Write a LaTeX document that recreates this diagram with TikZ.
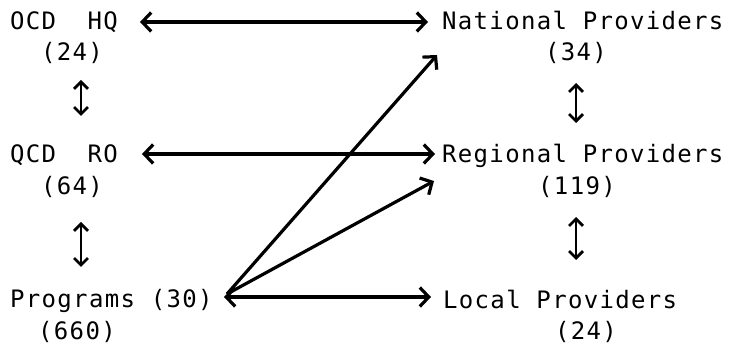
\documentclass[tikz,border=0pt]{standalone}
\usepackage{fontspec}
\newfontfamily\twfont[LetterSpace=5.5]{DejaVu Sans Mono}
\usetikzlibrary{arrows.meta}
\tikzset{
  lbl/.style={inner sep=0pt, font=\twfont\fontsize{24}{26}\selectfont},
  harrow/.style={line width=3.2pt, {Straight Barb[length=9pt,width=19pt]}-{Straight Barb[length=9pt,width=19pt]}},
  darrow/.style={line width=3.2pt, -{Straight Barb[length=9pt,width=19pt]}},
  varrow/.style={line width=2.8pt, {Straight Barb[length=7pt,width=14pt]}-{Straight Barb[length=7pt,width=14pt]}}
}
\begin{document}
\begin{tikzpicture}[x=1pt,y=-1pt]
\useasboundingbox (0,0) rectangle (729,347);
% left column
\node[lbl,anchor=base west] (hq) at (10,30) {OCD\ \ HQ};
\node[lbl,anchor=base] (hqn) at (72,61) {(24)};
\node[lbl,anchor=base west] (ro) at (10,163) {QCD\ \ RO};
\node[lbl,anchor=base] (ron) at (72,195) {(64)};
\node[lbl,anchor=base west] (prog) at (10,308) {Programs (30)};
\node[lbl,anchor=base] (progn) at (77,340) {(660)};
% right column
\node[lbl,anchor=base west] (nat) at (442,30) {National Providers};
\node[lbl,anchor=base] (natn) at (576,61) {(34)};
\node[lbl,anchor=base west] (reg) at (442,163) {Regional Providers};
\node[lbl,anchor=base] (regn) at (577,195) {(119)};
\node[lbl,anchor=base west] (loc) at (443,309) {Local Providers};
\node[lbl,anchor=base] (locn) at (586,340) {(24)};
% horizontal arrows
\coordinate (hqr) at (140,22);  \coordinate (natl) at (428,22);
\coordinate (ror) at (142,154); \coordinate (regl) at (435,154);
\coordinate (pgr) at (224,297); \coordinate (locl) at (431,297);
\draw[harrow] (hqr) -- (natl);
\draw[harrow] (ror) -- (regl);
\draw[harrow] (pgr) -- (locl);
% diagonal arrows
\coordinate (hub) at (227,294);
\coordinate (natin) at (437,55);
\coordinate (regin) at (434,181);
\draw[darrow] (hub) -- (natin);
\draw[darrow] (hub) -- (regin);
% vertical arrows
\coordinate (l1a) at (81,80);  \coordinate (l1b) at (81,116);
\coordinate (l2a) at (81,222); \coordinate (l2b) at (81,267);
\coordinate (r1a) at (576,83); \coordinate (r1b) at (576,123);
\coordinate (r2a) at (576,217); \coordinate (r2b) at (576,260);
\draw[varrow] (l1a) -- (l1b);
\draw[varrow] (l2a) -- (l2b);
\draw[varrow] (r1a) -- (r1b);
\draw[varrow] (r2a) -- (r2b);
\end{tikzpicture}
\end{document}
